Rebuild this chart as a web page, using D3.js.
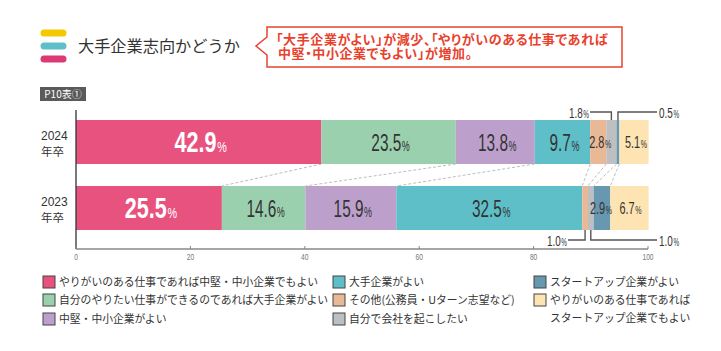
<!DOCTYPE html>
<html><head><meta charset="utf-8">
<script src="https://cdn.jsdelivr.net/npm/d3@7"></script>
<style>
body{margin:0;background:#fff;}
svg{display:block;font-family:"Noto Sans CJK JP","Noto Sans",sans-serif;}
.palt{font-feature-settings:"palt" 1;}
</style></head><body>
<svg id="c" width="721" height="351"></svg>
<script>
const years = ["2024", "2023"];
const seriesNames = [
  "やりがいのある仕事であれば中堅・中小企業でもよい",
  "自分のやりたい仕事ができるのであれば大手企業がよい",
  "中堅・中小企業がよい",
  "大手企業がよい",
  "その他(公務員・Uターン志望など)",
  "自分で会社を起こしたい",
  "スタートアップ企業がよい",
  "やりがいのある仕事であればスタートアップ企業でもよい"
];
const colors = ["#E8527F","#9BD0AE","#BCA0CB","#5FBFC8","#E8B994","#BEBFC1","#6898B0","#FDE4B2"];
const values2024 = [42.9, 23.5, 13.8, 9.7, 2.8, 1.8, 0.5, 5.1];
const values2023 = [25.5, 14.6, 15.9, 32.5, 1.0, 1.0, 2.9, 6.7];
const xTicks = [0, 20, 40, 60, 80, 100];

(function(){
const svg = d3.select("#c");
const x = d3.scaleLinear().domain([0, 100]).range([76, 648]);
const y = d3.scaleBand().domain(years).range([109, 241]).paddingInner(1/3).paddingOuter(1/6);
const data = {"2024": values2024, "2023": values2023};

[["#F5C900",33],["#5FBFC8",46],["#DB3A73",59]].forEach(([c,yy])=>{
  svg.append("line").attr("x1",44).attr("x2",63).attr("y1",yy).attr("y2",yy)
    .attr("stroke",c).attr("stroke-width",7).attr("stroke-linecap","round");
});
svg.append("text").attr("x",78).attr("y",52).attr("font-size",16.2).attr("fill","#333").text("大手企業志向かどうか");

svg.append("path").attr("d","M267,27 H622 V67 H267 V55 L256,46 L267,37 Z")
  .attr("fill","#fff").attr("stroke","#E8412C").attr("stroke-width",1.5);
const ct = svg.append("text").attr("class","palt").attr("y",44).attr("font-size",13).attr("letter-spacing",0.6)
  .attr("font-weight","bold").attr("fill","#E8412C");
ct.append("tspan").attr("x",276).text("「大手企業がよい」が減少、「やりがいのある仕事であれば");
ct.append("tspan").attr("x",278).attr("dy",14).text("中堅・中小企業でもよい」が増加。");

svg.append("rect").attr("x",40).attr("y",87).attr("width",46).attr("height",14).attr("fill","#5a5a5a");
svg.append("text").attr("x",63).attr("y",98).attr("text-anchor","middle").attr("font-size",10).attr("fill","#fff").text("P10表①");

const stacks = {};
years.forEach(yr=>{
  let acc = 0;
  stacks[yr] = data[yr].map(v=>{const s={x0:acc,x1:acc+v,v}; acc+=v; return s;});
});

const yTop = y("2024"), yBot = y("2023");
for (let i=0;i<7;i++){
  svg.append("line")
    .attr("x1",x(stacks["2024"][i].x1)).attr("y1",yTop+y.bandwidth())
    .attr("x2",x(stacks["2023"][i].x1)).attr("y2",yBot)
    .attr("stroke","#b5b5b5").attr("stroke-width",0.9).attr("stroke-dasharray","3,2");
}

years.forEach(yr=>{
  svg.selectAll(null).data(stacks[yr]).enter().append("rect")
    .attr("x",d=>x(d.x0)).attr("width",d=>x(d.x1)-x(d.x0))
    .attr("y",y(yr)).attr("height",y.bandwidth())
    .attr("fill",(d,i)=>colors[i]);
});

function label(cx, cy, val, size, pctSize, color, bold, sx, anchor){
  const g = svg.append("g").attr("transform",`translate(${cx},${cy}) scale(${sx},1)`);
  const t = g.append("text").attr("text-anchor",anchor||"middle")
    .attr("font-family","'Liberation Sans',Arial,sans-serif").attr("fill",color);
  t.append("tspan").attr("font-size",size).attr("font-weight",bold?"bold":"normal").text(val.toFixed(1));
  t.append("tspan").attr("font-size",pctSize).attr("dx",1).text("%");
}

const cy24 = y("2024")+y.bandwidth()/2, cy23 = y("2023")+y.bandwidth()/2;
const s24 = stacks["2024"], s23 = stacks["2023"];
label(x((s24[0].x0+s24[0].x1)/2)+2, cy24+10, s24[0].v, 30, 15, "#fff", true, 0.72);
label(x((s23[0].x0+s23[0].x1)/2)+2, cy23+10, s23[0].v, 30, 15, "#fff", true, 0.72);
[1,2,3].forEach(i=>{
  label(x((s24[i].x0+s24[i].x1)/2)+2, cy24+8.5, s24[i].v, 24, 14, "#333", false, 0.64);
  label(x((s23[i].x0+s23[i].x1)/2)+2, cy23+8.5, s23[i].v, 24, 14, "#333", false, 0.64);
});
label(x((s24[4].x0+s24[4].x1)/2)+2, cy24+6, s24[4].v, 17, 11, "#333", false, 0.64);
label(x((s24[7].x0+s24[7].x1)/2)+2, cy24+6, s24[7].v, 17, 11, "#333", false, 0.64);
label(x((s23[6].x0+s23[6].x1)/2)-1, cy23+6, s23[6].v, 17, 11, "#333", false, 0.64);
label(x((s23[7].x0+s23[7].x1)/2)+1, cy23+6, s23[7].v, 17, 11, "#333", false, 0.64);

const lc = "#555";
function path(d){svg.append("path").attr("d",d).attr("fill","none").attr("stroke",lc).attr("stroke-width",1.4);}
const aTop = 112, aBot = 240;
const m5 = x((s24[5].x0+s24[5].x1)/2), m6 = x((s24[6].x0+s24[6].x1)/2);
path(`M590,${aTop} H${m5} V${y("2024")}`);
path(`M657,${aTop} H${m6} V${y("2024")}`);
label(589, aTop+5.5, s24[5].v, 15.5, 10, "#333", false, 0.64, "end");
label(659, aTop+5.5, s24[6].v, 15.5, 10, "#333", false, 0.64, "start");
const n4 = x((s23[4].x0+s23[4].x1)/2), n5 = x((s23[5].x0+s23[5].x1)/2);
const b23 = y("2023")+y.bandwidth();
path(`M568,${aBot} H${n4} V${b23}`);
path(`M657,${aBot} H${n5} V${b23}`);
label(567, aBot+5.5, s23[4].v, 15.5, 10, "#333", false, 0.64, "end");
label(659, aBot+5.5, s23[5].v, 15.5, 10, "#333", false, 0.64, "start");

svg.append("line").attr("x1",76).attr("x2",76).attr("y1",110).attr("y2",249).attr("stroke","#333").attr("stroke-width",1.3);
const ax = svg.append("g").attr("transform","translate(0,249)");
ax.append("line").attr("x1",x(0)).attr("x2",x(100)).attr("stroke","#888").attr("stroke-width",1.5);
xTicks.forEach(t=>{
  ax.append("line").attr("x1",x(t)).attr("x2",x(t)).attr("y1",0).attr("y2",-3).attr("stroke","#888").attr("stroke-width",1);
  ax.append("g").attr("transform",`translate(${x(t)},11) scale(0.7,1)`)
    .append("text").attr("text-anchor","middle").attr("font-size",9.5).attr("fill","#777")
    .attr("font-family","'Liberation Sans',sans-serif").text(t);
});

years.forEach(yr=>{
  const c = y(yr)+y.bandwidth()/2;
  svg.append("text").attr("x",41).attr("y",c-2).attr("font-size",12).attr("fill","#333")
    .attr("font-family","'Liberation Sans',sans-serif").text(yr);
  svg.append("text").attr("x",41).attr("y",c+14).attr("font-size",11.5).attr("fill","#333").text("年卒");
});

const legPos = [[43,282],[43,300],[43,319],[333,282],[333,300],[333,319],[534,282],[534,300]];
seriesNames.forEach((n,i)=>{
  const [lx,ly] = legPos[i];
  svg.append("rect").attr("x",lx).attr("y",ly-6).attr("width",12).attr("height",12)
    .attr("fill",colors[i]).attr("stroke","#444").attr("stroke-width",1);
  const t = svg.append("text").attr("x",lx+16).attr("y",ly+4).attr("font-size",10.8).attr("fill","#333");
  if (i===7){
    t.append("tspan").text("やりがいのある仕事であれば");
    t.append("tspan").attr("x",lx+16).attr("dy",18).text("スタートアップ企業でもよい");
  } else t.text(n);
});
})();
</script></body></html>
